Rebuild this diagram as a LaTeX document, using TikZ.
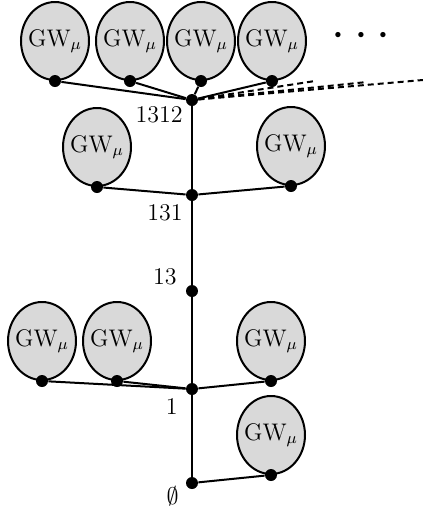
\documentclass[tikz,border=0pt]{standalone}
\usetikzlibrary{shapes.geometric}

\tikzstyle{gw}     = [ draw,ellipse,fill=black!15,line width=1pt,
                       inner xsep=-2pt,inner ysep=0pt,
                       minimum width=34pt,minimum height=39pt]
\tikzstyle{vertex} = [ circle,fill=black,inner sep=0pt,minimum size=6pt]
\tikzstyle{tag}    = [ anchor=east,inner sep=0pt]
\tikzstyle{edge}   = [ line width=1pt]
\tikzstyle{ghost}  = [ line width=1pt,dash pattern=on 3pt off 2pt]

\begin{document}
\begin{tikzpicture}[x=0.5pt,y=-0.5pt,font=\fontsize{12}{14}\selectfont]
  \useasboundingbox (0,0) rectangle (423,510);

  % spine
  \node[vertex] at (192,483) (v0)    {};
  \node[vertex] at (192,389) (v1)    {};
  \node[vertex] at (192,291) (v13)   {};
  \node[vertex] at (192,195) (v131)  {};
  \node[vertex] at (192,100) (v1312) {};

  \node[tag] at (179,496) (l0)    {\fontsize{13}{15}\selectfont$\emptyset$};
  \node[tag] at (178,407) (l1)    {1};
  \node[tag] at (177,277) (l13)   {13};
  \node[tag] at (183,213) (l131)  {131};
  \node[tag] at (183,115) (l1312) {1312};

  % subtrees at 1312
  \node[gw] at (55,41)  (a1) {GW$_\mu$};
  \node[gw] at (130,41) (a2) {GW$_\mu$};
  \node[gw] at (201,41) (a3) {GW$_\mu$};
  \node[gw] at (272,41) (a4) {GW$_\mu$};
  \node[inner sep=0pt] at (361,36) (more) {\fontsize{28}{28}\selectfont$\cdots$};

  % subtrees at 131
  \node[gw] at (97,147)  (b1) {GW$_\mu$};
  \node[gw] at (291,146) (b2) {GW$_\mu$};

  % subtrees at 1
  \node[gw] at (42,341)  (c1) {GW$_\mu$};
  \node[gw] at (117,341) (c2) {GW$_\mu$};
  \node[gw] at (271,341) (c3) {GW$_\mu$};

  % subtree at root
  \node[gw] at (271,435) (r1) {GW$_\mu$};

  \foreach \t in {a1,a2,a3,a4,b1,b2,c1,c2,c3,r1}
    \node[vertex] at (\t.south) (\t r) {};

  \draw[edge] (v0) -- (v1) -- (v13) -- (v131) -- (v1312);
  \foreach \t in {a1,a2,a3,a4}
    \draw[edge] (\t r) -- (v1312);
  \foreach \t in {b1,b2}
    \draw[edge] (\t r) -- (v131);
  \foreach \t in {c1,c2,c3}
    \draw[edge] (\t r) -- (v1);
  \draw[edge] (r1r) -- (v0);

  % further children
  \coordinate (d1) at (315,81);
  \coordinate (d2) at (367,82);
  \coordinate (d3) at (423,80);
  \draw[ghost] (v1312) -- (d1);
  \draw[ghost] (v1312) -- (d2);
  \draw[ghost] (v1312) -- (d3);
\end{tikzpicture}
\end{document}
